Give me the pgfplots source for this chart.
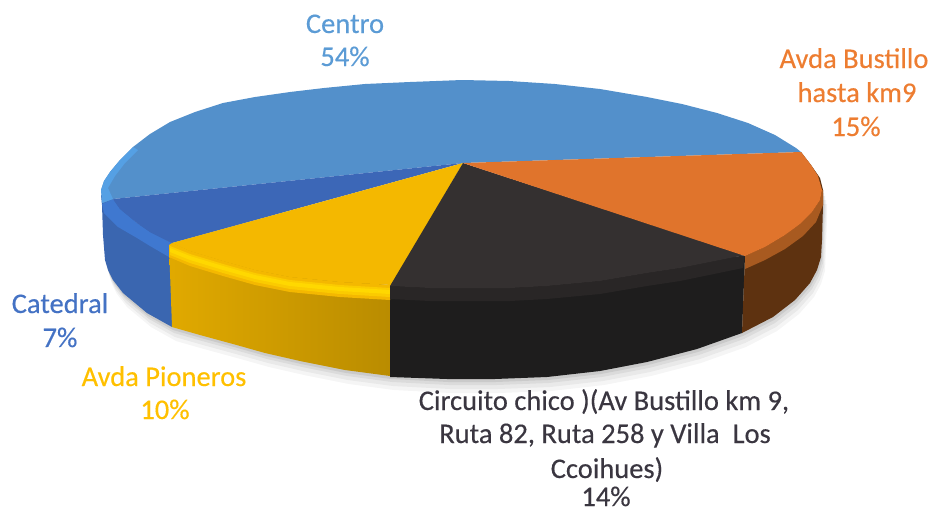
\documentclass[border=0pt]{standalone}
\usepackage{pgfplots}
\usepackage{pgfplotstable}
\usepackage{fontspec}
\setmainfont{Carlito}[FakeBold=0.35]
\pgfplotsset{compat=1.18}
\definecolor{cCentro}{HTML}{5390CB}
\definecolor{cCentroL}{HTML}{55A0E4}
\definecolor{cCat}{HTML}{3C67B7}
\definecolor{cCatW}{HTML}{3A66B0}
\definecolor{cCatB}{HTML}{3F78D0}
\definecolor{cYel}{HTML}{F4B800}
\definecolor{cYelM}{HTML}{FBCB00}
\definecolor{cYelB}{HTML}{FFD800}
\definecolor{cBlk}{HTML}{343030}
\definecolor{cBlkW}{HTML}{1E1D1D}
\definecolor{cBlkB}{HTML}{292626}
\definecolor{cOra}{HTML}{E0742C}
\definecolor{cOraW}{HTML}{5E3210}
\definecolor{cOraB}{HTML}{A85A20}
\definecolor{tCentro}{HTML}{5B9BD5}
\definecolor{tOra}{HTML}{ED7D31}
\definecolor{tCat}{HTML}{4472C4}
\definecolor{tYel}{HTML}{FFC000}
\definecolor{tBlk}{HTML}{3A3640}
\pgfplotstableread{
x y
103 215
105 260
108 270
113 280
123 293
147 313
172 327
200 335
233 344
265 353
300 361
345 370
390 376
447 379
495 379
547 377
600 371
647 362
697 349
742 333
773 317
795 300
810 283
817 270
821 257
823 205
823 190
}\silhouette
\begin{document}
\begin{tikzpicture}
\clip (0,0) rectangle (929pt,512pt);
\begin{axis}[at={(0,0)},anchor=south west,scale only axis,width=929pt,height=512pt,
  xmin=0,xmax=929,ymin=0,ymax=512,y dir=reverse,hide axis,clip=false]
% soft shadow
\addplot[fill=black,fill opacity=0.04,draw=none,yshift=-14pt,xshift=4pt] table {\silhouette};
\addplot[fill=black,fill opacity=0.05,draw=none,yshift=-10pt,xshift=3pt] table {\silhouette};
\addplot[fill=black,fill opacity=0.06,draw=none,yshift=-6pt,xshift=2pt] table {\silhouette};
\addplot[fill=black,fill opacity=0.08,draw=none,yshift=-3pt,xshift=1pt] table {\silhouette};
% walls
\addplot[fill=cCatW,draw=none] coordinates {(101,195)(102,205)(103,235)(105,260)(108,270)(113,280)(123,293)(147,313)(172,327)(172,243)(137,223)(113,199)};
\addplot[left color=cYel!92!black,right color=cYel!76!black,draw=none] coordinates {(172,243)(169,245)(172,327)(200,335)(233,344)(265,353)(300,361)(345,370)(390,376)(390,286)};
\addplot[fill=cBlkW,draw=none] coordinates {(390,286)(390,377)(447,379)(495,379)(547,377)(600,371)(647,362)(697,349)(742,333)(745,256)};
\addplot[fill=cOraW,draw=none] coordinates {(801,152)(811,165)(820,178)(823,190)(823,205)(822,240)(821,257)(817,270)(810,283)(795,300)(773,317)(742,333)(745,256)};
% bevels
\addplot[fill=cCatB,draw=none] coordinates {(102,204)(113,199)(120,209)(137,223)(150,232)(172,243)(169,257)(150,246)(137,238)(118,227)(104,213)};
\addplot[fill=cYel,draw=none] coordinates {(169,245)(172,243)(190,251)(223,261)(255,270)(290,277)(340,282)(392,285)(390,300)(340,297)(290,292)(255,285)(223,276)(190,266)(169,257)};
\addplot[fill=cYelM,draw=none] coordinates {(170,246)(190,254)(223,264)(255,273)(290,280)(340,285)(390,288)(390,297)(340,294)(290,289)(255,282)(223,273)(190,263)(170,255)};
\addplot[fill=cYelB,draw=none] coordinates {(170,248)(190,256)(223,266)(255,275)(290,282)(340,287)(390,290)(390,294)(340,291)(290,286)(255,279)(223,270)(190,260)(170,252)};
\addplot[fill=cBlkB,draw=none] coordinates {(390,286)(430,288)(470,288)(510,288)(547,286)(600,281)(647,273)(680,268)(745,255)(743,268)(680,281)(647,286)(600,294)(547,299)(510,301)(470,301)(430,301)(390,299)};
\addplot[fill=cOraB,draw=none] coordinates {(745,256)(765,247)(785,235)(800,224)(812,212)(820,200)(822,190)(823,190)(823,205)(816,222)(803,236)(785,249)(765,260)(745,269)};
% flat faces
\addplot[fill=cCentro,draw=none] coordinates {(463,163)(801,152)(796,148)(775,135)(748,123)(717,113)(682,104)(647,97)(600,89)(555,84)(509,81)(462,80)(410,82)(365,84)(324,88)(290,92)(255,97)(223,103)(195,112)(170,122)(150,134)(133,147)(120,160)(110,172)(104,181)(101,190)(103,203)(113,199)};
\addplot[fill=cCentroL,draw=none] coordinates {(101,190)(102,203)(113,199)(108,188)(115,176)(125,163)(138,150)(133,147)(120,160)(110,172)(104,181)};
\addplot[fill=cCat,draw=none] coordinates {(463,163)(113,199)(120,209)(137,223)(150,232)(172,243)};
\addplot[fill=cYel,draw=none] coordinates {(463,163)(172,243)(190,251)(223,261)(255,270)(290,277)(340,282)(392,285)};
\addplot[fill=cBlk,draw=none] coordinates {(463,163)(390,286)(430,288)(470,288)(510,288)(547,286)(600,281)(647,273)(680,268)(745,255)};
\addplot[fill=cOra,draw=none] coordinates {(463,163)(745,256)(765,247)(785,235)(800,224)(812,212)(820,200)(822,190)(818,176)(811,165)(801,152)};
% labels
\tikzset{lab/.style={anchor=base,inner sep=0pt,font=\fontsize{28.5}{34}\selectfont}}
\node[lab,text=tCentro] at (axis cs:345,33) {Centro};
\node[lab,text=tCentro] at (axis cs:345,66) {54\%};
\node[lab,text=tOra] at (axis cs:854,68) {Avda Bustillo};
\node[lab,text=tOra] at (axis cs:857,102) {hasta km9};
\node[lab,text=tOra] at (axis cs:856,136) {15\%};
\node[lab,text=tCat] at (axis cs:60,313) {Catedral};
\node[lab,text=tCat] at (axis cs:60,347) {7\%};
\node[lab,text=tYel] at (axis cs:164,386) {Avda Pioneros};
\node[lab,text=tYel] at (axis cs:165,419) {10\%};
\node[lab,text=tBlk] at (axis cs:604,410) {Circuito chico )(Av Bustillo km 9,};
\node[lab,text=tBlk] at (axis cs:605,443) {Ruta 82, Ruta 258 y Villa\ \ Los};
\node[lab,text=tBlk] at (axis cs:607,478) {Ccoihues)};
\node[lab,text=tBlk] at (axis cs:606,506) {14\%};
\end{axis}
\end{tikzpicture}
\end{document}
